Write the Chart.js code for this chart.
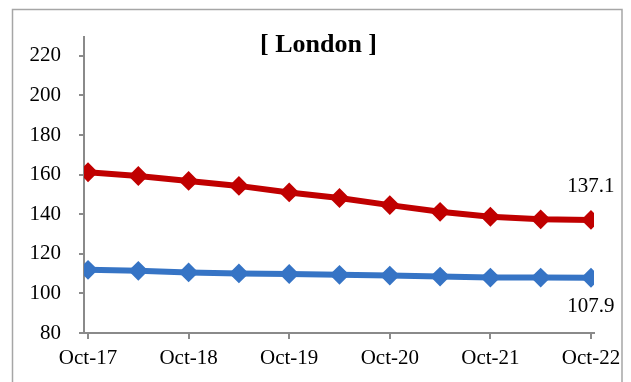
<!DOCTYPE html>
<html>
<head>
<meta charset="utf-8">
<script src="https://cdn.jsdelivr.net/npm/chart.js@4/dist/chart.umd.min.js"></script>
<style>
  html, body { margin: 0; padding: 0; background: #fff; }
  #wrap { position: relative; width: 631px; height: 382px; overflow: hidden; }
  canvas { display: block; }
</style>
</head>
<body>
<div id="wrap"><canvas id="c" width="631" height="382"></canvas></div>
<script>
// Half-yearly periods, Oct-17 to Oct-22
const periods = ['Oct-17', 'Apr-18', 'Oct-18', 'Apr-19', 'Oct-19', 'Apr-20',
                 'Oct-20', 'Apr-21', 'Oct-21', 'Apr-22', 'Oct-22'];
const redSeries  = [161.2, 159.3, 156.8, 154.3, 151.0, 148.2, 144.6, 141.2, 138.7, 137.4, 137.1];
const blueSeries = [111.9, 111.4, 110.6, 110.1, 109.8, 109.4, 109.0, 108.5, 108.0, 108.0, 107.9];
const yTicks = [80, 100, 120, 140, 160, 180, 200, 220];
const xTickIdx = [0, 2, 4, 6, 8, 10];
const titleText = '[ London ]';

const SERIF = '"Liberation Serif", "Times New Roman", serif';
const AXIS = '#8a8a8a';

const toPoints = arr => arr.map((v, i) => ({ x: i, y: v }));

// Outer frame, title and end-of-line value labels
const decor = {
  id: 'decor',
  beforeDraw(chart) {
    const ctx = chart.ctx;
    ctx.save();
    ctx.strokeStyle = '#a6a6a6';
    ctx.lineWidth = 1.5;
    ctx.strokeRect(12.5, 9.5, 609.5, 400);
    ctx.restore();
  },
  afterDatasetsDraw(chart) {
    const ctx = chart.ctx;
    ctx.save();
    ctx.fillStyle = '#000';
    ctx.textAlign = 'center';
    ctx.textBaseline = 'middle';
    ctx.font = 'bold 26px ' + SERIF;
    ctx.fillText(titleText, 318.5, 45);

    ctx.font = '21px ' + SERIF;
    const last = periods.length - 1;
    const pr = chart.getDatasetMeta(0).data[last];
    const pb = chart.getDatasetMeta(1).data[last];
    ctx.fillText(redSeries[last].toFixed(1), pr.x, pr.y - 33);
    ctx.fillText(blueSeries[last].toFixed(1), pb.x, pb.y + 29);
    ctx.restore();
  }
};

new Chart(document.getElementById('c'), {
  type: 'line',
  data: {
    datasets: [
      {
        data: toPoints(redSeries),
        borderColor: '#C00000',
        backgroundColor: '#C00000',
        borderWidth: 6,
        pointStyle: 'rectRot',
        pointRadius: 8.5,
        pointBorderWidth: 2,
        pointBorderColor: '#C00000',
        pointBackgroundColor: '#C00000',
        tension: 0
      },
      {
        data: toPoints(blueSeries),
        borderColor: '#3674C5',
        backgroundColor: '#3674C5',
        borderWidth: 6,
        pointStyle: 'rectRot',
        pointRadius: 8.5,
        pointBorderWidth: 2,
        pointBorderColor: '#3674C5',
        pointBackgroundColor: '#3674C5',
        tension: 0
      }
    ]
  },
  options: {
    responsive: false,
    animation: false,
    events: [],
    layout: { padding: { top: 37, right: 37, left: 0, bottom: 0 } },
    plugins: { legend: { display: false }, tooltip: { enabled: false }, title: { display: false } },
    scales: {
      x: {
        type: 'linear',
        min: -0.08,
        max: 10.06,
        afterBuildTicks: s => { s.ticks = xTickIdx.map(v => ({ value: v })); },
        afterFit: s => { s.height = 49; },
        border: { display: true, color: AXIS, width: 2 },
        grid: { drawOnChartArea: false, drawTicks: true, tickLength: 6, color: AXIS, lineWidth: 2 },
        ticks: {
          autoSkip: false,
          maxRotation: 0,
          padding: 7,
          color: '#000',
          font: { family: SERIF, size: 21 },
          callback: v => periods[v] || ''
        }
      },
      y: {
        min: 80,
        max: 229.5,
        afterBuildTicks: s => { s.ticks = yTicks.map(v => ({ value: v })); },
        afterFit: s => { s.width = 84; },
        border: { display: true, color: AXIS, width: 2 },
        grid: { drawOnChartArea: false, drawTicks: true, tickLength: 5, color: AXIS, lineWidth: 2 },
        ticks: {
          padding: 18,
          color: '#000',
          font: { family: SERIF, size: 21 }
        }
      }
    }
  },
  plugins: [decor]
});
</script>
</body>
</html>
